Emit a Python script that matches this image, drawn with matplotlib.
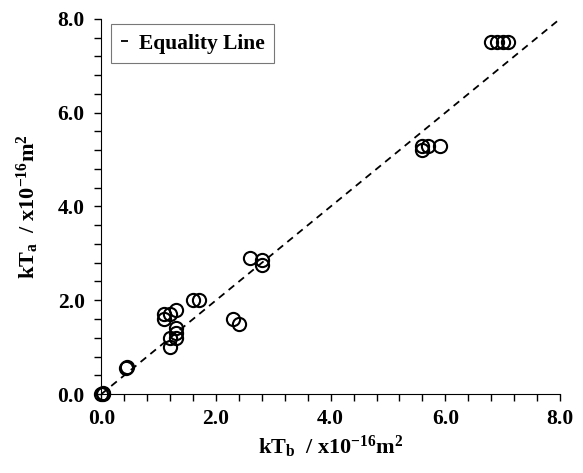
import matplotlib.pyplot as plt
from matplotlib.ticker import MultipleLocator

# kT_b (x) and kT_a (y), x10^-16 m^2
kTb = [0.0, 0.02, 0.03, 0.42, 0.44,
       1.1, 1.1, 1.2, 1.3, 1.3, 1.3, 1.3, 1.2, 1.2, 1.6, 1.7,
       2.3, 2.4, 2.6, 2.8, 2.8,
       5.6, 5.6, 5.7, 5.9,
       6.8, 6.9, 7.0, 7.1]
kTa = [0.0, 0.02, 0.01, 0.55, 0.57,
       1.7, 1.6, 1.7, 1.8, 1.4, 1.3, 1.2, 1.2, 1.0, 2.0, 2.0,
       1.6, 1.5, 2.9, 2.85, 2.75,
       5.2, 5.3, 5.3, 5.3,
       7.5, 7.5, 7.5, 7.5]
equality = [0, 8]

plt.rcParams['font.family'] = ['Liberation Serif', 'DejaVu Serif']
plt.rcParams['font.weight'] = 'bold'
plt.rcParams['mathtext.fontset'] = 'custom'
plt.rcParams['mathtext.rm'] = 'Liberation Serif:bold'
plt.rcParams['mathtext.bf'] = 'Liberation Serif:bold'
plt.rcParams['mathtext.it'] = 'Liberation Serif:bold'

fig = plt.figure(figsize=(5.83, 4.73), dpi=100)
ax = fig.add_axes([0.174, 0.167, 0.7865, 0.793])

ax.plot(equality, equality, color='black', linestyle=(0, (4, 3)), linewidth=1.3,
        label='Equality Line')
ax.plot(kTb, kTa, linestyle='none', marker='o', markersize=9.5, markerfacecolor='none',
        markeredgecolor='black', markeredgewidth=1.5, clip_on=False)

ax.set_xlim(0, 8)
ax.set_ylim(0, 8)
ax.xaxis.set_major_locator(MultipleLocator(2))
ax.yaxis.set_major_locator(MultipleLocator(2))
ax.xaxis.set_minor_locator(MultipleLocator(0.4))
ax.yaxis.set_minor_locator(MultipleLocator(0.4))
ax.xaxis.set_major_formatter(lambda v, p: f'{v:.1f}')
ax.yaxis.set_major_formatter(lambda v, p: f'{v:.1f}')
ax.tick_params(which='both', length=5, width=1)
ax.tick_params(axis='x', which='major', labelsize=15.5, pad=6)
ax.tick_params(axis='y', which='major', labelsize=15.5, pad=7)
ax.spines['top'].set_visible(False)
ax.spines['right'].set_visible(False)

ax.set_xlabel(r'kT$_\mathrm{b}$  / x10$^\mathrm{-16}$m$^\mathrm{2}$', fontsize=16,
              fontweight='bold', labelpad=3)
ax.set_ylabel(r'kT$_\mathrm{a}$  / x10$^\mathrm{-16}$m$^\mathrm{2}$', fontsize=16,
              fontweight='bold', labelpad=12)

leg = ax.legend(loc='upper left', handlelength=0.35, handletextpad=0.5, fontsize=15.5,
                fancybox=False, edgecolor='#555555', borderpad=0.45, borderaxespad=0,
                bbox_to_anchor=(0.021, 0.987))
leg.get_frame().set_linewidth(0.8)

fig.savefig('out.png', dpi=100)
